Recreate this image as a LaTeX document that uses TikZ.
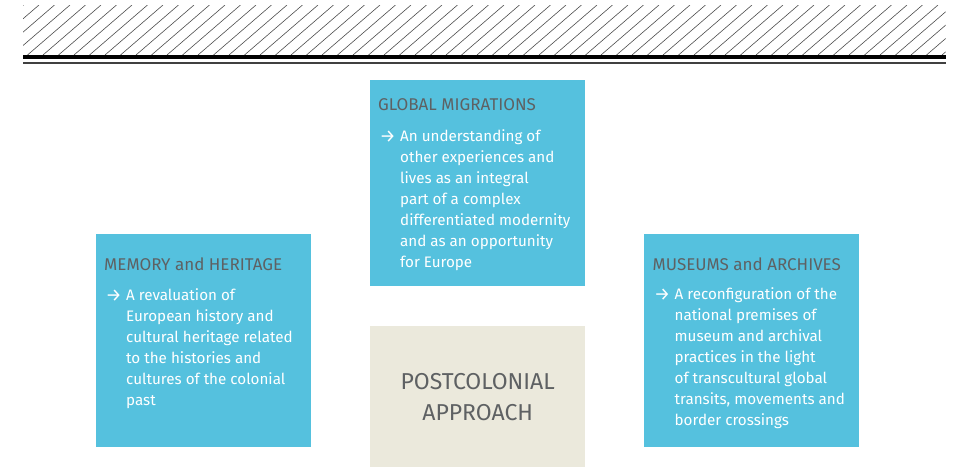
\documentclass[tikz,border=0pt]{standalone}
\usepackage{fontspec}
\setmainfont{Fira Sans}
\usepackage{xcolor}
\usepackage{tikz}
\usetikzlibrary{positioning, calc}

\definecolor{tileblue}{HTML}{55C1DE}
\definecolor{tilebeige}{HTML}{EBE9DC}
\definecolor{headgray}{HTML}{5E6163}

\newcommand{\arrowitem}[1]{\makebox[22pt][l]{\hspace{1.5pt}\raisebox{-1.2pt}{\fontsize{18}{18}\selectfont →}}\parbox[t]{185pt}{#1}}

\begin{document}
\begin{tikzpicture}[x=1pt, y=-1pt,
        tile/.style={fill=tileblue, inner sep=0pt, anchor=north west,
            minimum width=215pt, minimum height=213pt},
        head/.style={anchor=base west, inner sep=0pt, text=headgray,
            font=\fontsize{17}{20}\selectfont},
        body/.style={anchor=north west, inner sep=0pt, text=white, align=left,
            font=\fontsize{15.2}{21.1}\selectfont}]
        \useasboundingbox (0,0) rectangle (955,467);

        % hatched band on top
        \begin{scope}
            \clip (23,5) rectangle (945.6,55);
            \foreach \x in {-50,-34.5,...,950}
                \draw[line width=0.6pt, black!70] (\x,55) -- ++(58,-50);
        \end{scope}
        \draw[line width=4.3pt] (23,57.2) -- (945.6,57.2);
        \draw[line width=1.7pt, black!75] (23,62.8) -- (945.6,62.8);

        % the tiles
        \node[tile, minimum height=206pt] (glob) at (370,80) {};
        \node[tile] (mem) at (96,234) {};
        \node[tile] (mus) at (644,234) {};
        \node[tile, fill=tilebeige, minimum height=141pt] (post) at (370,326) {};

        % headings
        \node[head] (globhead) at ($(glob.north west)+(8,30.5)$) {GLOBAL MIGRATIONS};
        \node[head] (memhead) at ($(mem.north west)+(8,36)$) {MEMORY and HERITAGE};
        \node[head] (mushead) at ($(mus.north west)+(8.5,36)$) {MUSEUMS and ARCHIVES};

        % texts
        \node[body] (globtext) at ($(glob.north west)+(8,49)$)
            {\arrowitem{An understanding of\\
            other experiences and\\ lives as an integral\\ part of a complex\\
            differentiated modernity\\ and as an opportunity\\ for Europe}};
        \node[body] (memtext) at ($(mem.north west)+(8,54)$)
            {\arrowitem{A revaluation of\\
            European history and\\ cultural heritage related\\ to the histories and\\
            cultures of the colonial\\ past}};
        \node[body] (mustext) at ($(mus.north west)+(8.5,53)$)
            {\arrowitem{A reconfiguration of the\\
            national premises of\\ museum and archival\\ practices in the light\\
            of transcultural global\\ transits, movements and\\ border crossings}};

        \node[text=headgray, align=center, font=\fontsize{23}{31}\selectfont] (posttext)
            at (post.center) {POSTCOLONIAL\\ APPROACH};
    \end{tikzpicture}
\end{document}
